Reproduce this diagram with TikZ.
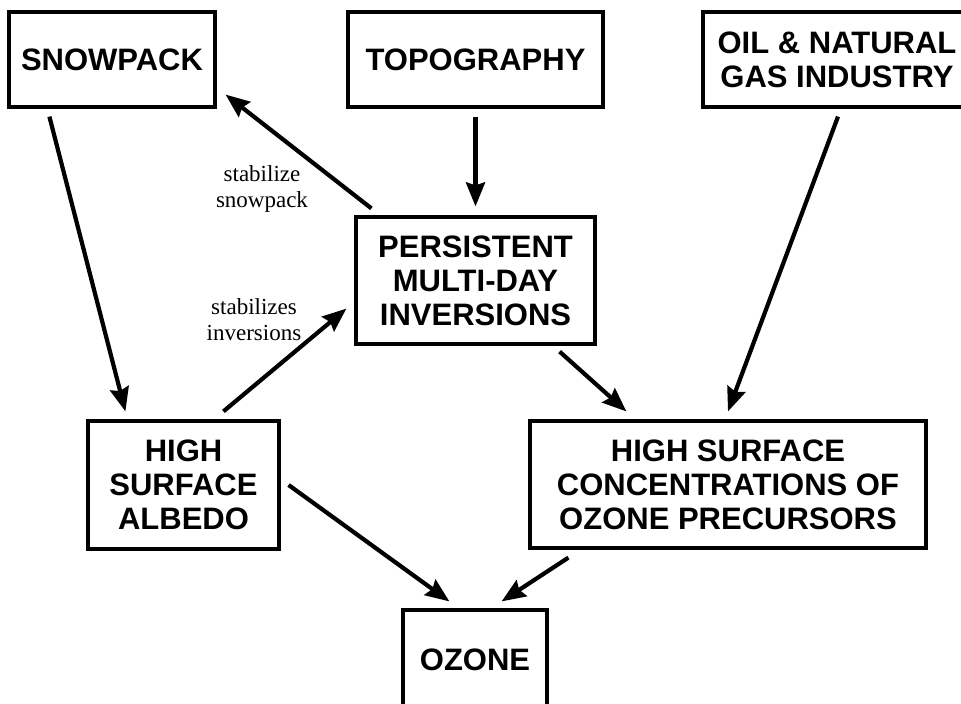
\documentclass[tikz,border=0pt]{standalone}
\usepackage{fontspec}
\setmainfont{Liberation Serif}
\newfontfamily\boxfont{Liberation Sans}
\usetikzlibrary{arrows.meta}
\begin{document}
\begin{tikzpicture}[x=1pt,y=-1pt,
  box/.style={draw, line width=3.2pt, inner sep=0pt, align=center,
    font=\boxfont\bfseries\fontsize{31}{34}\selectfont},
  lbl/.style={align=center, font=\fontsize{23}{26}\selectfont},
  arr/.style={line width=4.2pt, -{Stealth[length=24pt,width=19pt,inset=3pt]}}]
\useasboundingbox[fill=white] (0,0) rectangle (961,704);

\node[box, minimum width=206pt, minimum height=95pt] (snow) at (112,59.5) {SNOWPACK};
\node[box, minimum width=255pt, minimum height=95pt] (topo) at (475.5,59.5) {TOPOGRAPHY};
\node[box, minimum width=268pt, minimum height=95pt] (oil) at (837,59.5) {OIL \& NATURAL\\GAS INDUSTRY};
\node[box, minimum width=239pt, minimum height=127pt] (inv) at (475.5,280.5) {PERSISTENT\\MULTI-DAY\\INVERSIONS};
\node[box, minimum width=191pt, minimum height=128pt] (alb) at (183.5,485) {HIGH\\SURFACE\\ALBEDO};
\node[box, minimum width=396pt, minimum height=127pt] (pre) at (728,484.5) {HIGH SURFACE\\CONCENTRATIONS OF\\OZONE PRECURSORS};
\node[box, minimum width=144pt, minimum height=100pt] (oz) at (475,660) {OZONE};

\node[lbl] (l1) at (262,189) {stabilize\\snowpack};
\node[lbl] (l2) at (254,320) {stabilizes\\inversions};

\draw[arr] ([xshift=42pt,yshift=-8pt]snow.south west) -- ([xshift=39pt,yshift=8pt]alb.north west);
\draw[arr] ([xshift=17pt,yshift=7pt]inv.north west) -- ([xshift=9pt,yshift=14pt]snow.south east);
\draw[arr] ([yshift=-8pt]topo.south) -- ([yshift=9pt]inv.north);
\draw[arr] ([xshift=1pt,yshift=-8pt]oil.south) -- ([yshift=8pt]pre.north);
\draw[arr] ([xshift=137pt,yshift=8pt]alb.north west) -- ([xshift=-8pt,yshift=37pt]inv.south west);
\draw[arr] ([xshift=-37pt,yshift=-6pt]inv.south east) -- ([xshift=98pt,yshift=8pt]pre.north west);
\draw[arr] ([xshift=8pt]alb.east) -- ([xshift=48pt,yshift=7pt]oz.north west);
\draw[arr] ([xshift=40pt,yshift=-8pt]pre.south west) -- ([xshift=-47pt,yshift=7pt]oz.north east);
\end{tikzpicture}
\end{document}
